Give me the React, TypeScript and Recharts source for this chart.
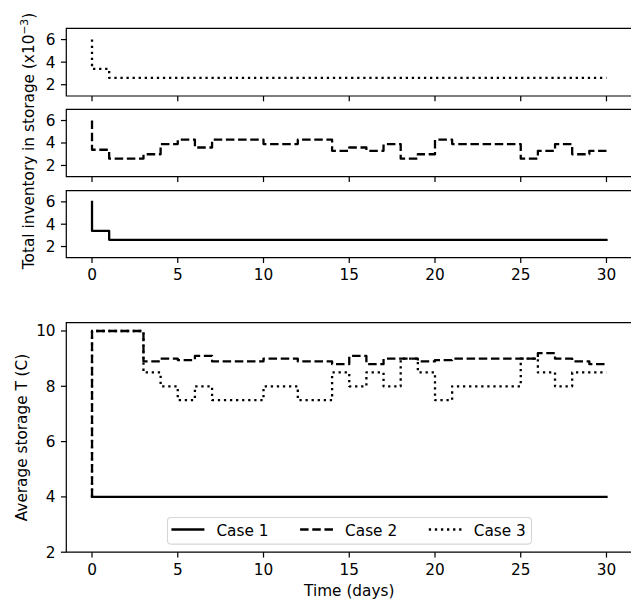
import React from 'react';
import { LineChart, Line, XAxis, YAxis, ReferenceArea, Legend, Label } from 'recharts';

// ---------- data ----------
const times = [0, 0, 1, 2, 3, 4, 5, 6, 7, 8, 9, 10, 11, 12, 13, 14, 15, 16, 17, 18, 19, 20, 21, 22, 23, 24, 25, 26, 27, 28, 29, 30];

// total inventory in storage (x10^-3)
const invCase1 = [6, 3.4,
  2.6, 2.6, 2.6, 2.6, 2.6, 2.6, 2.6, 2.6, 2.6, 2.6,
  2.6, 2.6, 2.6, 2.6, 2.6, 2.6, 2.6, 2.6, 2.6, 2.6,
  2.6, 2.6, 2.6, 2.6, 2.6, 2.6, 2.6, 2.6, 2.6, 2.6];
const invCase2 = [6, 3.4,
  2.6, 2.6, 3.0, 3.9, 4.3, 3.6, 4.3, 4.3, 4.3, 3.9,
  3.9, 4.3, 4.3, 3.3, 3.6, 3.3, 3.9, 2.6, 3.0, 4.3,
  3.9, 3.9, 3.9, 3.9, 2.6, 3.3, 3.9, 3.0, 3.3, 3.3];
const invCase3 = [6, 3.4,
  2.6, 2.6, 2.6, 2.6, 2.6, 2.6, 2.6, 2.6, 2.6, 2.6,
  2.6, 2.6, 2.6, 2.6, 2.6, 2.6, 2.6, 2.6, 2.6, 2.6,
  2.6, 2.6, 2.6, 2.6, 2.6, 2.6, 2.6, 2.6, 2.6, 2.6];

// average storage temperature (C)
const tempCase1 = [4, 4,
  4, 4, 4, 4, 4, 4, 4, 4, 4, 4,
  4, 4, 4, 4, 4, 4, 4, 4, 4, 4,
  4, 4, 4, 4, 4, 4, 4, 4, 4, 4];
const tempCase2 = [4, 10,
  10, 10, 8.9, 9.0, 8.95, 9.1, 8.9, 8.9, 8.9, 9.0,
  9.0, 8.9, 8.9, 8.8, 9.1, 8.8, 9.0, 9.0, 8.9, 8.95,
  9.0, 9.0, 9.0, 9.0, 9.0, 9.2, 9.0, 8.9, 8.8, 8.8];
const tempCase3 = [4, 10,
  10, 10, 8.5, 8.0, 7.5, 8.0, 7.5, 7.5, 7.5, 8.0,
  8.0, 7.5, 7.5, 8.5, 8.0, 8.5, 8.0, 9.0, 8.5, 7.5,
  8.0, 8.0, 8.0, 8.0, 9.0, 8.5, 8.0, 8.5, 8.5, 8.5];

const dayTicks = [0, 5, 10, 15, 20, 25, 30];
const invTicks = [2, 4, 6];
const tempTicks = [2, 4, 6, 8, 10];
const caseNames = ['Case 1', 'Case 2', 'Case 3'];

// ---------- styles ----------
const FONT = 'DejaVu Sans';
const FS = 15.3;
const LW = 2.29;
const SPINE = 1.22;
const TICK = 5.35;
const caseDash = [undefined, '8.5 3.67', '2.29 3.78'];
const caseCap: any[] = ['square', 'butt', 'butt'];

const CHART_W = 640;
const CHART_H = 601;
const PLOT_LEFT = 66.3;
const PLOT_RIGHT = 632.2;
const X_DOMAIN: [number, number] = [-1.5, 31.5];

const series = (vals: number[]) => times.map((t, i) => ({ t, v: vals[i] }));

const tickStyle = { fill: '#000', fontSize: FS, fontFamily: FONT };

const InvLabel = () => (
  <text x={34} y={141} transform="rotate(-90 34 141)" textAnchor="middle" fontSize={FS} fontFamily={FONT} fill="#000">
    Total inventory in storage (x10<tspan dy={-6} fontSize={FS * 0.7}>−3</tspan><tspan dy={6}>)</tspan>
  </text>
);

const TempLabel = () => (
  <text x={26.5} y={437.5} transform="rotate(-90 26.5 437.5)" textAnchor="middle" fontSize={FS} fontFamily={FONT} fill="#000">
    Average storage T (C)
  </text>
);

const TimeLabel = () => (
  <text x={(PLOT_LEFT + PLOT_RIGHT) / 2} y={596} textAnchor="middle" fontSize={FS} fontFamily={FONT} fill="#000">
    Time (days)
  </text>
);

const LEG_W = 365;
const LEG_H = 27.6;
const renderLegend = (props: any) => {
  const payload = props.payload || [];
  return (
    <svg width={LEG_W} height={LEG_H} style={{ display: 'block', overflow: 'visible' }}>
      <rect x={0.5} y={0.5} width={LEG_W - 1} height={LEG_H - 1} rx={3.5} ry={3.5}
        fill="#fff" fillOpacity={0.8} stroke="#cccccc" strokeOpacity={0.8} strokeWidth={1.1} />
      {payload.map((entry: any, i: number) => {
        const x0 = 4.4 + i * 128.7;
        const inset = i === 0 ? LW / 2 : 0;
        return (
          <g key={String(entry.value)}>
            <line x1={x0 + inset} x2={x0 + 33 - inset} y1={12.5} y2={12.5} stroke="#000" strokeWidth={LW}
              strokeDasharray={caseDash[i]} strokeLinecap={caseCap[i]} />
            <text x={x0 + 45} y={19} fontSize={FS} fontFamily={FONT} fill="#000">{entry.value}</text>
          </g>
        );
      })}
    </svg>
  );
};

type PanelProps = {
  plotTop: number;
  plotBottom: number;
  xAxisH: number;
  yDomain: [number, number];
  yTicks: number[];
  lines: { name: string; vals: number[]; idx: number }[];
  showXLabels: boolean;
  yLabel?: React.ReactNode;
  xLabel?: React.ReactNode;
  legend?: boolean;
};

function Panel(p: PanelProps) {
  return (
    <div style={{ position: 'absolute', left: 0, top: 0 }}>
      <LineChart
        width={CHART_W}
        height={CHART_H}
        margin={{ top: p.plotTop, right: CHART_W - PLOT_RIGHT, bottom: CHART_H - p.plotBottom - p.xAxisH, left: 0 }}
      >
        <XAxis
          type="number"
          dataKey="t"
          domain={X_DOMAIN}
          allowDataOverflow
          ticks={dayTicks}
          interval={0}
          height={p.xAxisH}
          axisLine={false}
          tickLine={{ stroke: '#000', strokeWidth: SPINE }}
          tickSize={TICK}
          tickMargin={6.2}
          tick={tickStyle}
          tickFormatter={p.showXLabels ? (v: number) => String(v) : () => ''}
        >
          {p.xLabel ? <Label content={() => p.xLabel} /> : null}
        </XAxis>
        <YAxis
          type="number"
          domain={p.yDomain}
          allowDataOverflow
          ticks={p.yTicks}
          interval={0}
          width={PLOT_LEFT}
          axisLine={false}
          tickLine={{ stroke: '#000', strokeWidth: SPINE }}
          tickSize={TICK}
          tickMargin={5.35}
          tick={tickStyle}
        >
          {p.yLabel ? <Label content={() => p.yLabel} /> : null}
        </YAxis>
        <ReferenceArea
          x1={X_DOMAIN[0]}
          x2={X_DOMAIN[1]}
          y1={p.yDomain[0]}
          y2={p.yDomain[1]}
          fill="none"
          fillOpacity={0}
          stroke="#000"
          strokeWidth={SPINE}
          ifOverflow="visible"
        />
        {p.lines.map((l) => (
          <Line
            key={l.name}
            name={l.name}
            data={series(l.vals)}
            dataKey="v"
            type="stepAfter"
            stroke="#000"
            strokeWidth={LW}
            strokeDasharray={caseDash[l.idx]}
            strokeLinecap={caseCap[l.idx]}
            strokeLinejoin="round"
            dot={false}
            activeDot={false}
            isAnimationActive={false}
          />
        ))}
        {p.legend ? (
          <Legend
            layout="horizontal"
            verticalAlign="middle"
            align="center"
            content={renderLegend}
            wrapperStyle={{ position: 'absolute', left: 167.3, top: 516.7, width: LEG_W, height: LEG_H }}
          />
        ) : null}
      </LineChart>
    </div>
  );
}

export default function App() {
  return (
    <div style={{ position: 'fixed', left: 0, top: 0, width: 631, height: 601, overflow: 'hidden', background: '#fff' }}>
      <Panel
        plotTop={28.3}
        plotBottom={96}
        xAxisH={30}
        yDomain={[1, 7]}
        yTicks={invTicks}
        lines={[{ name: caseNames[2], vals: invCase3, idx: 2 }]}
        showXLabels={false}
      />
      <Panel
        plotTop={109.3}
        plotBottom={176.7}
        xAxisH={30}
        yDomain={[1, 7]}
        yTicks={invTicks}
        lines={[{ name: caseNames[1], vals: invCase2, idx: 1 }]}
        showXLabels={false}
        yLabel={<InvLabel />}
      />
      <Panel
        plotTop={190.7}
        plotBottom={257.7}
        xAxisH={30}
        yDomain={[1, 7]}
        yTicks={invTicks}
        lines={[{ name: caseNames[0], vals: invCase1, idx: 0 }]}
        showXLabels={true}
      />
      <Panel
        plotTop={322.7}
        plotBottom={552.2}
        xAxisH={48.8}
        yDomain={[2, 10.3]}
        yTicks={tempTicks}
        lines={[
          { name: caseNames[0], vals: tempCase1, idx: 0 },
          { name: caseNames[1], vals: tempCase2, idx: 1 },
          { name: caseNames[2], vals: tempCase3, idx: 2 },
        ]}
        showXLabels={true}
        yLabel={<TempLabel />}
        xLabel={<TimeLabel />}
        legend
      />
    </div>
  );
}
